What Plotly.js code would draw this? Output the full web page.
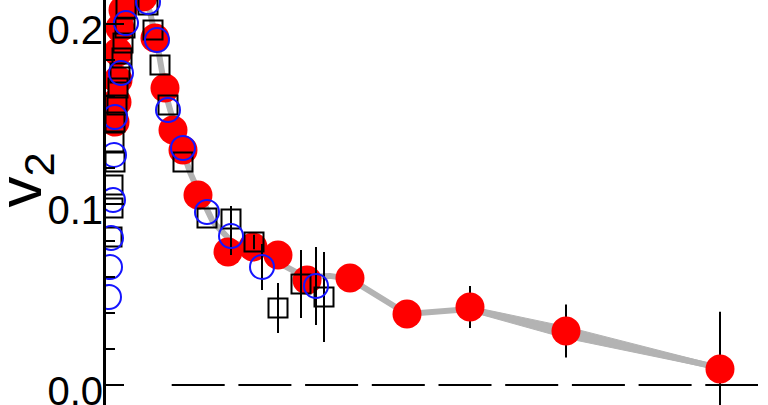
<!DOCTYPE html>
<html>
<head>
<meta charset="utf-8">
<script src="https://cdn.plot.ly/plotly-3.0.1.min.js"></script>
<style>html,body{margin:0;padding:0;background:#fff;}#chart{width:768px;height:405px;}</style>
</head>
<body>
<div id="chart"></div>
<script>
// ---- data (x in arbitrary units, v2 values) ----
const redX  = [0.08, 0.10, 0.11, 0.11, 0.13, 0.16, 0.36, 0.48, 0.58, 0.66, 0.76, 0.91, 1.21, 1.46, 1.71, 2.00, 2.43, 3.00, 3.63, 4.59, 6.13];
const redV  = [0.1456, 0.1567, 0.1689, 0.1844, 0.1977, 0.2076, 0.2149, 0.1921, 0.1645, 0.1412, 0.1301, 0.1052, 0.0736, 0.0764, 0.0720, 0.0581, 0.0592, 0.0393, 0.0432, 0.0299, 0.0089];
const redErr= [0, 0, 0, 0, 0, 0, 0, 0, 0, 0, 0, 0, 0, 0, 0, 0, 0.004, 0.005, 0.0116, 0.0147, 0.0316];

const sqX   = [0.05, 0.06, 0.06, 0.08, 0.07, 0.08, 0.10, 0.11, 0.13, 0.15, 0.16, 0.18, 0.19, 0.41, 0.46, 0.53, 0.61, 0.76, 1.00, 1.24, 1.47, 1.71, 1.94, 2.17];
const sqV   = [0.0819, 0.0980, 0.1107, 0.1235, 0.1346, 0.1456, 0.1550, 0.1645, 0.1728, 0.1811, 0.1894, 0.1977, 0.2087, 0.2104, 0.1966, 0.1772, 0.1550, 0.1235, 0.0925, 0.0919, 0.0792, 0.0426, 0.0559, 0.0487];
const sqErr = [0, 0, 0, 0, 0, 0, 0, 0, 0, 0, 0, 0, 0, 0, 0, 0, 0, 0, 0, 0.0072, 0.004, 0.0138, 0.0188, 0.0249];

const blX   = [0.02, 0.03, 0.04, 0.06, 0.07, 0.08, 0.14, 0.19, 0.41, 0.50, 0.61, 0.76, 1.00, 1.24, 1.55, 2.09];
const blV   = [0.0487, 0.0653, 0.0814, 0.1024, 0.1274, 0.1484, 0.1728, 0.2004, 0.2121, 0.1910, 0.1523, 0.1312, 0.0958, 0.0825, 0.0653, 0.0548];
const blErr = [0, 0, 0, 0, 0, 0, 0, 0, 0, 0, 0, 0, 0, 0.0105, 0.0127, 0.0216];

// model band: centre line and widening envelope
const bandX = [0.36, 0.43, 0.51, 0.59, 0.71, 0.83, 0.93, 1.06, 1.25, 1.53, 1.76, 1.98, 2.23, 2.43, 3.00, 3.63, 4.59, 6.13];
const bandV = [0.2159, 0.2065, 0.1866, 0.1606, 0.1368, 0.1179, 0.1052, 0.0903, 0.0792, 0.0736, 0.0664, 0.0598, 0.0604, 0.0587, 0.0393, 0.0421, 0.0290, 0.0094];
const envX  = [3.63, 4.59, 6.13];
const envHi = [0.0435, 0.0323, 0.0105];
const envLo = [0.0407, 0.0259, 0.0083];

const yTickVals = [0.0, 0.1, 0.2];
const yTickText = ['0.0', '0.1', '0.2'];

const grey = 'rgb(179,179,179)';
const FONT = 'Liberation Sans, Arial, Helvetica, sans-serif';

const traces = [
  {x: bandX, y: bandV, mode: 'lines', line: {color: grey, width: 6}, hoverinfo: 'skip'},
  {x: envX.concat(envX.slice().reverse()), y: envHi.concat(envLo.slice().reverse()),
   mode: 'lines', fill: 'toself', fillcolor: grey, line: {color: grey, width: 1}, hoverinfo: 'skip'},
  {x: redX, y: redV, mode: 'markers', type: 'scatter',
   marker: {symbol: 'circle', size: 29, color: 'rgb(255,0,0)'},
   error_y: {type: 'data', array: redErr, visible: true, color: 'black', thickness: 2, width: 0}},
  {x: sqX, y: sqV, mode: 'markers', type: 'scatter',
   marker: {symbol: 'square-open', size: 19, color: 'black', line: {width: 2, color: 'black'}},
   error_y: {type: 'data', array: sqErr, visible: true, color: 'black', thickness: 2, width: 0}},
  {x: blX, y: blV, mode: 'markers', type: 'scatter',
   marker: {symbol: 'circle-open', size: 24, color: 'rgb(20,20,255)', line: {width: 2, color: 'rgb(20,20,255)'}},
   error_y: {type: 'data', array: blErr, visible: true, color: 'black', thickness: 2, width: 0}}
];

const layout = {
  width: 768, height: 405,
  margin: {l: 106, r: 8, t: 0, b: 0, pad: 0},
  paper_bgcolor: 'white', plot_bgcolor: 'white',
  showlegend: false,
  font: {family: FONT, color: 'black'},
  xaxis: {range: [-0.01, 6.53], visible: false, showgrid: false, zeroline: false},
  yaxis: {
    range: [-0.0111, 0.2132], showgrid: false, zeroline: false,
    showline: true, linecolor: 'black', linewidth: 3,
    ticks: 'inside', ticklen: 18, tickwidth: 2, tickcolor: 'black',
    tickvals: yTickVals, ticktext: yTickText,
    tickfont: {family: FONT, size: 40, color: 'black'},
    ticklabeloverflow: 'allow', ticklabelstandoff: -8, ticklabelshift: 6,
    minor: {dtick: 0.02, ticks: 'inside', ticklen: 9, tickwidth: 2, tickcolor: 'black'}
  },
  shapes: [
    {type: 'line', xref: 'x', yref: 'y', x0: 0.647, x1: 6.51, y0: 0, y1: 0,
     line: {color: 'black', width: 2, dash: '53px,13.7px'}, layer: 'below'}
  ],
  annotations: [
    {text: 'v<sub>2</sub>', xref: 'paper', yref: 'paper', x: -0.125, y: 0.555,
     xanchor: 'center', yanchor: 'middle', textangle: -90, showarrow: false,
     font: {family: FONT, size: 62, color: 'black'}}
  ]
};

Plotly.newPlot('chart', traces, layout, {staticPlot: true, displayModeBar: false});
</script>
</body>
</html>
